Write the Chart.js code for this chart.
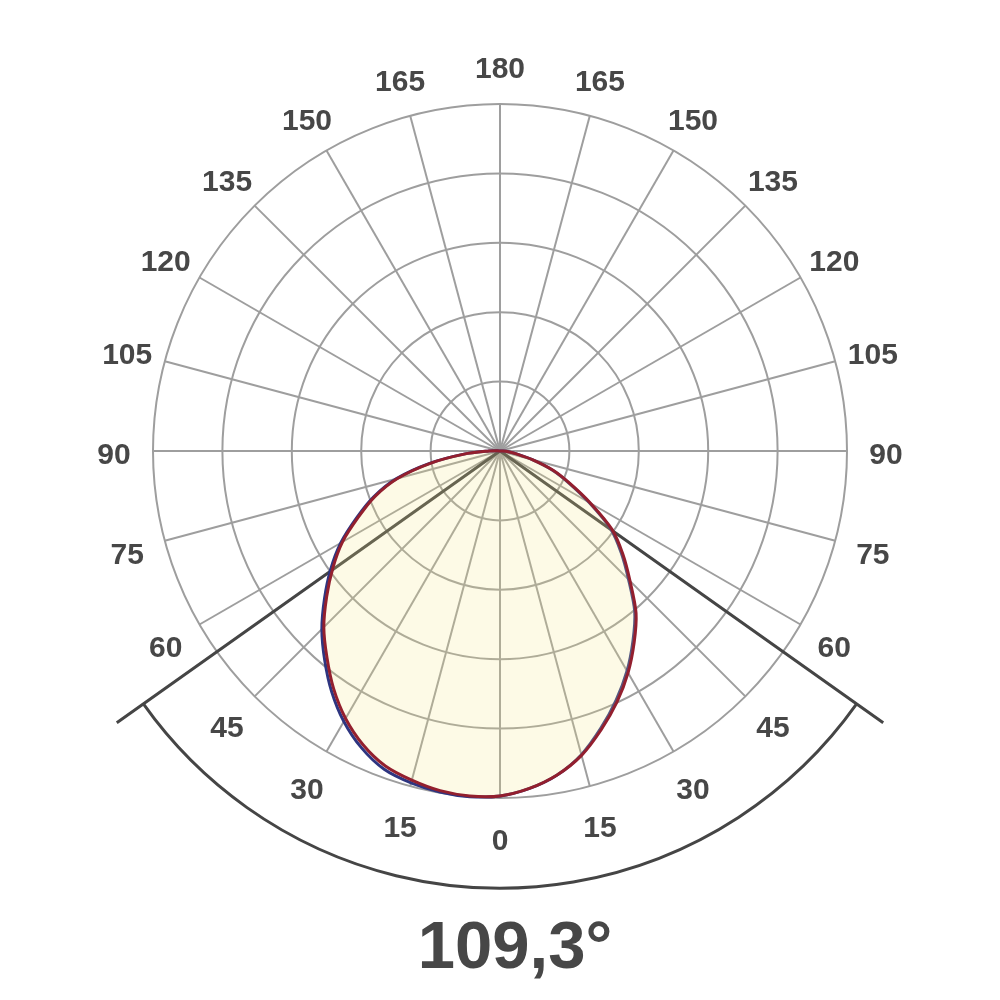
<!DOCTYPE html>
<html>
<head>
<meta charset="utf-8">
<script src="https://cdn.jsdelivr.net/npm/chart.js@4.4.0/dist/chart.umd.min.js"></script>
<style>
  html, body { margin: 0; padding: 0; background: #fff; }
  #wrap { width: 1000px; height: 1000px; position: relative; }
</style>
</head>
<body>
<div id="wrap"><canvas id="polarChart"></canvas></div>
<script>
// gamma angles of one half plane, every 5 degrees (0 = straight down)
var gammaAngles = [0, 5, 10, 15, 20, 25, 30, 35, 40, 45, 50, 55, 60, 65, 70, 75, 80, 85, 90,
    95, 100, 105, 110, 115, 120, 125, 130, 135, 140, 145, 150, 155, 160, 165, 170, 175, 180];
var labelEvery = 15;

// intensity, outer ring = 500
var redLeft = [497, 499, 497, 491, 483, 467, 445, 418, 388, 359, 326, 294, 262, 225, 192, 153, 102, 52, 16,
    4, 0, 0, 0, 0, 0, 0, 0, 0, 0, 0, 0, 0, 0, 0, 0, 0, 0];
var redRight = [497, 488, 474, 454, 427, 399, 369, 337, 305, 265, 231, 197, 151, 112, 82, 49, 24, 12, 4,
    0, 0, 0, 0, 0, 0, 0, 0, 0, 0, 0, 0, 0, 0, 0, 0, 0, 0];
var blueLeft = [497, 500, 499, 495, 488, 472, 450, 423, 393, 363, 330, 298, 265, 228, 194, 155, 103, 52, 16,
    4, 0, 0, 0, 0, 0, 0, 0, 0, 0, 0, 0, 0, 0, 0, 0, 0, 0];
var blueRight = [497, 488, 474, 453, 425, 396, 366, 334, 302, 262, 228, 194, 148, 110, 80, 48, 24, 12, 4,
    0, 0, 0, 0, 0, 0, 0, 0, 0, 0, 0, 0, 0, 0, 0, 0, 0, 0];

var beamAngle = 109.3;
var beamText = '109,3\u00B0';
var beamArcValue = 630;
var beamLineValue = 677;

// left half goes 0 -> 180 clockwise from the bottom, right half comes back 175 -> 5
var labels = gammaAngles.concat(gammaAngles.slice(1, -1).reverse());
function fullPlane(left, right) {
    return left.concat(right.slice(1, -1).reverse());
}

var beamPlugin = {
    id: 'beam',
    beforeDatasetsDraw: function (chart) {
        var scale = chart.scales.r;
        var ctx = chart.ctx;
        var xc = scale.xCenter, yc = scale.yCenter;
        var half = beamAngle / 2 * Math.PI / 180;
        var lineLen = scale.getDistanceFromCenterForValue(beamLineValue);
        var arcR = scale.getDistanceFromCenterForValue(beamArcValue);
        ctx.save();
        ctx.strokeStyle = '#454545';
        ctx.lineWidth = 3;
        ctx.beginPath();
        [-1, 1].forEach(function (s) {
            ctx.moveTo(xc, yc);
            ctx.lineTo(xc + s * Math.sin(half) * lineLen, yc + Math.cos(half) * lineLen);
        });
        ctx.stroke();
        ctx.beginPath();
        ctx.arc(xc, yc, arcR, Math.PI / 2 - half, Math.PI / 2 + half);
        ctx.stroke();
        ctx.restore();
    },
    afterDraw: function (chart) {
        var scale = chart.scales.r;
        var ctx = chart.ctx;
        ctx.save();
        ctx.fillStyle = '#474747';
        ctx.font = 'bold 30px "Liberation Sans", Arial, sans-serif';
        ctx.textAlign = 'center';
        ctx.textBaseline = 'middle';
        chart.data.labels.forEach(function (g, i) {
            if (g % labelEvery !== 0) return;
            var p = scale.getPointPosition(i, scale.drawingArea + 39);
            ctx.fillText(String(g), p.x, p.y + 5);
        });
        ctx.font = 'bold 67px "Liberation Sans", Arial, sans-serif';
        ctx.textBaseline = 'alphabetic';
        ctx.fillText(beamText, 515, 968);
        ctx.restore();
    }
};

var ctx = document.getElementById('polarChart').getContext('2d');
var chart = new Chart(ctx, {
    type: 'radar',
    data: {
        labels: labels,
        datasets: [{
            label: 'C90-C270',
            data: fullPlane(redLeft, redRight),
            borderColor: '#931f2e',
            borderWidth: 3,
            backgroundColor: 'rgba(245, 230, 130, 0.2)',
            fill: true,
            tension: 0.3,
            pointRadius: 0,
            clip: false,
            order: 0
        },
        {
            label: 'C0-C180',
            data: fullPlane(blueLeft, blueRight),
            borderColor: '#2e3580',
            borderWidth: 3,
            fill: false,
            tension: 0.3,
            pointRadius: 0,
            clip: false,
            order: 1
        }]
    },
    options: {
        responsive: true,
        maintainAspectRatio: false,
        animation: false,
        layout: { padding: { top: 104, bottom: 202, left: 0, right: 0 } },
        plugins: {
            legend: { display: false },
            tooltip: { enabled: false }
        },
        scales: {
            r: {
                startAngle: 180,
                min: 0,
                max: 500,
                ticks: { display: false, stepSize: 100 },
                pointLabels: { display: false },
                grid: { circular: true, color: '#9e9e9e', lineWidth: 2 },
                angleLines: {
                    color: function (c) {
                        return labels[c.index] % labelEvery === 0 ? '#9e9e9e' : 'transparent';
                    },
                    lineWidth: 2
                }
            }
        }
    },
    plugins: [beamPlugin]
});
</script>
</body>
</html>
